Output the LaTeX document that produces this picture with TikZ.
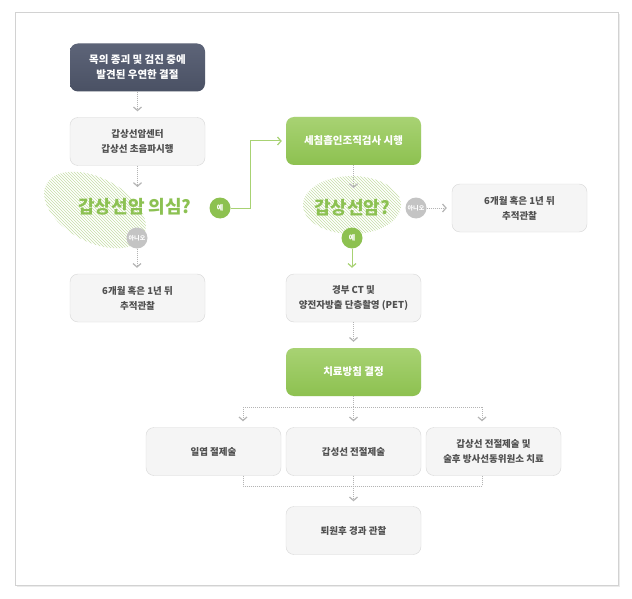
\documentclass[tikz,border=0pt]{standalone}
\usepackage{fontspec}
\newfontfamily\kr{Noto Sans CJK KR}
\usetikzlibrary{positioning,arrows.meta,patterns}
\definecolor{boxfill}{HTML}{F5F5F5}
\definecolor{boxline}{HTML}{D8D8D8}
\definecolor{txt}{HTML}{505050}
\definecolor{qgreen}{HTML}{8CC152}
\definecolor{dgreen}{HTML}{8DC150}
\definecolor{lgreen}{HTML}{A8D273}
\definecolor{hatch}{HTML}{C6DFA6}
\definecolor{slate}{HTML}{4A5164}
\definecolor{lslate}{HTML}{5D6478}
\definecolor{dotgray}{HTML}{C4C4C4}
\definecolor{lgray}{HTML}{B4B4B4}
\definecolor{frame}{HTML}{D2D2D2}

\begin{document}
\begin{tikzpicture}[x=1pt, y=-1pt,
  every node/.style = {font=\kr},
  box/.style = {shape=rectangle, rounded corners=8pt, draw=boxline, fill=boxfill,
    minimum width=135pt, minimum height=48pt, align=center, text=txt,
    font=\kr\bfseries\fontsize{9.5}{15}\selectfont},
  dark/.style = {box, draw=none, top color=lslate, bottom color=slate, text=white,
    font=\kr\bfseries\fontsize{10.5}{15}\selectfont},
  grn/.style = {dark, top color=lgreen, bottom color=dgreen},
  ask/.style = {text=qgreen, font=\kr\bfseries\fontsize{18}{20}\selectfont},
  yes/.style = {shape=circle, fill=dgreen, text=white, inner sep=0pt, minimum size=21pt,
    font=\kr\bfseries\fontsize{7}{7}\selectfont},
  no/.style = {yes, fill=dotgray, font=\kr\bfseries\fontsize{6}{6}\selectfont},
  dotline/.style = {draw=lgray, line width=1pt, dash pattern=on 1pt off 1pt},
  dots/.style = {dotline, -{Straight Barb[length=3.5pt, width=8pt, line width=1.2pt]}},
  gline/.style = {draw=lgreen, line width=1pt, -{Straight Barb[length=3.5pt, width=8pt, line width=1.2pt]}}
]
\useasboundingbox (0,0) rectangle (632,599);
% frame
\fill[black!8] (17,14) rectangle (620,587);
\draw[frame, fill=white] (15,12) rectangle (618,585);

% hatched blobs
\fill[pattern=north west lines, pattern color=hatch, rotate around={-28:(95,210)}]
  (95,210) ellipse (55 and 32);
\fill[pattern=north west lines, pattern color=hatch] (352,205) ellipse (49 and 29);

% left column
\node[dark] (find) at (137.5,67.5) {목의 종괴 및 검진 중에\\발견된 우연한 결절};
\node[box] (us) at (137.5,141.5) {갑상선암센터\\갑상선 초음파시행};
\node[ask] (q1) at (135,207) {갑상선암 의심?};
\node[yes] (yes1) at (220,208) {예};
\node[no] (no1) at (137,238) {아니오};
\node[box] (fu1) at (137.5,298) {6개월 혹은 1년 뒤\\추적관찰};

% right column
\node[grn] (fna) at (353.5,141) {세침흡인조직검사 시행};
\node[ask] (q2) at (352,208) {갑상선암?};
\node[no] (no2) at (416,208) {아니오};
\node[box] (fu2) at (519.5,208) {6개월 혹은 1년 뒤\\추적관찰};
\node[yes] (yes2) at (352,238) {예};
\node[box] (ct) at (353.5,298) {경부 CT 및\\양전자방출 단층촬영 (PET)};
\node[grn] (plan) at (353.5,372) {치료방침 결정};

% treatments
\node[box] (lob) at (213.5,451.5) {일엽 절제술};
\node[box] (tot) at (353.5,451.5) {갑성선 전절제술};
\node[box] (rai) at (493.5,451.5) {갑상선 전절제술 및\\술후 방사선동위원소 치료};
\node[box] (post) at (353.5,530.5) {퇴원후 경과 관찰};

\coordinate (split) at (353.5,407);
\coordinate (la) at (243,407);
\coordinate (ra) at (482,407);
\coordinate (join) at (353.5,486);
\coordinate (lb) at (243,486);
\coordinate (rb) at (482,486);
\coordinate (turn) at (250,208);

% connectors
\draw[dots, shorten >=6pt] (find) -- (us);
\draw[dots, shorten >=8pt] (us.south) -- (us.south |- q1.north);
\draw[dots, shorten >=6pt] (no1) -- (no1 |- fu1.north);
\draw[gline, shorten >=4pt] (yes1) -- (turn) |- (fna);
\draw[dots, shorten >=8pt] (fna.south) -- (fna.south |- q2.north);
\draw[dots, shorten >=5pt] (no2) -- (fu2);
\draw[gline, shorten >=6pt] (yes2) -- (yes2 |- ct.north);
\draw[dots, shorten >=6pt] (ct) -- (plan);

\draw[dotline] (plan) -- (split);
\draw[dotline] (la) -- (ra);
\draw[dots, shorten >=6pt] (la) -- (la |- lob.north);
\draw[dots, shorten >=6pt] (split) -- (tot);
\draw[dots, shorten >=6pt] (ra) -- (ra |- rai.north);

\draw[dotline] (lb |- lob.south) -- (lb) -- (rb) -- (rb |- rai.south);
\draw[dotline] (tot) -- (join);
\draw[dots, shorten >=5pt] (join) -- (post);
\end{tikzpicture}
\end{document}
